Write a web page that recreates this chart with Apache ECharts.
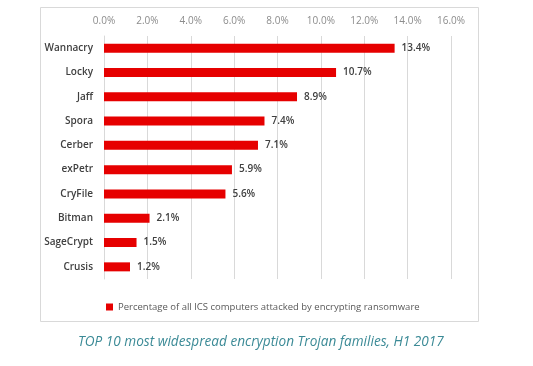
<!DOCTYPE html>
<html><head><meta charset="utf-8">
<script src="https://cdn.jsdelivr.net/npm/echarts@6/dist/echarts.min.js"></script>
<style>html,body{margin:0;padding:0;background:#fff}#c{width:533px;height:366px}</style>
</head><body><div id="c"></div>
<script>
var categories = ['Wannacry','Locky','Jaff','Spora','Cerber','exPetr','CryFile','Bitman','SageCrypt','Crusis'];
var values = [13.4,10.7,8.9,7.4,7.1,5.9,5.6,2.1,1.5,1.2];
var seriesName = 'Percentage of all ICS computers attacked by encrypting ransomware';
var caption = 'TOP 10 most widespread encryption Trojan families, H1 2017';
var font = 'Open Sans';
var chart = echarts.init(document.getElementById('c'));
chart.setOption({
  animation:false,
  backgroundColor:'#fff',
  title:{text:caption,left:73,top:330,padding:[5,5],textStyle:{fontFamily:font,fontStyle:'italic',fontWeight:'normal',fontSize:13.6,color:'#3b8a96'}},
  graphic:[{type:'rect',shape:{x:40.5,y:7.5,width:438,height:314},style:{fill:'none',stroke:'#d9d9d9',lineWidth:1},silent:true}],
  legend:{data:[seriesName],left:101,top:297,icon:'rect',itemWidth:7,itemHeight:7,itemGap:3,textStyle:{fontFamily:font,fontSize:9.5,color:'#595959'}},
  grid:{left:104,right:82,top:36,bottom:87},
  xAxis:{type:'value',position:'top',min:0,max:16,interval:2,
    axisLabel:{formatter:function(v){return v.toFixed(1)+'%';},fontFamily:font,fontSize:10,color:'#8c8c8c',margin:10},
    axisLine:{show:false},axisTick:{show:false},
    splitLine:{show:true,lineStyle:{color:'#d9d9d9',width:1}}},
  yAxis:{type:'category',data:categories,inverse:true,
    axisLine:{show:true,lineStyle:{color:'#d9d9d9'}},axisTick:{show:false},
    axisLabel:{fontFamily:font,fontSize:10,fontWeight:600,color:'#404040',margin:11}},
  series:[{name:seriesName,type:'bar',data:values,barWidth:9,itemStyle:{color:'#e60000'},
    label:{show:true,position:'right',distance:7,formatter:function(p){return p.value.toFixed(1)+'%';},fontFamily:font,fontSize:10,fontWeight:600,color:'#404040'}}]
});
</script></body></html>
